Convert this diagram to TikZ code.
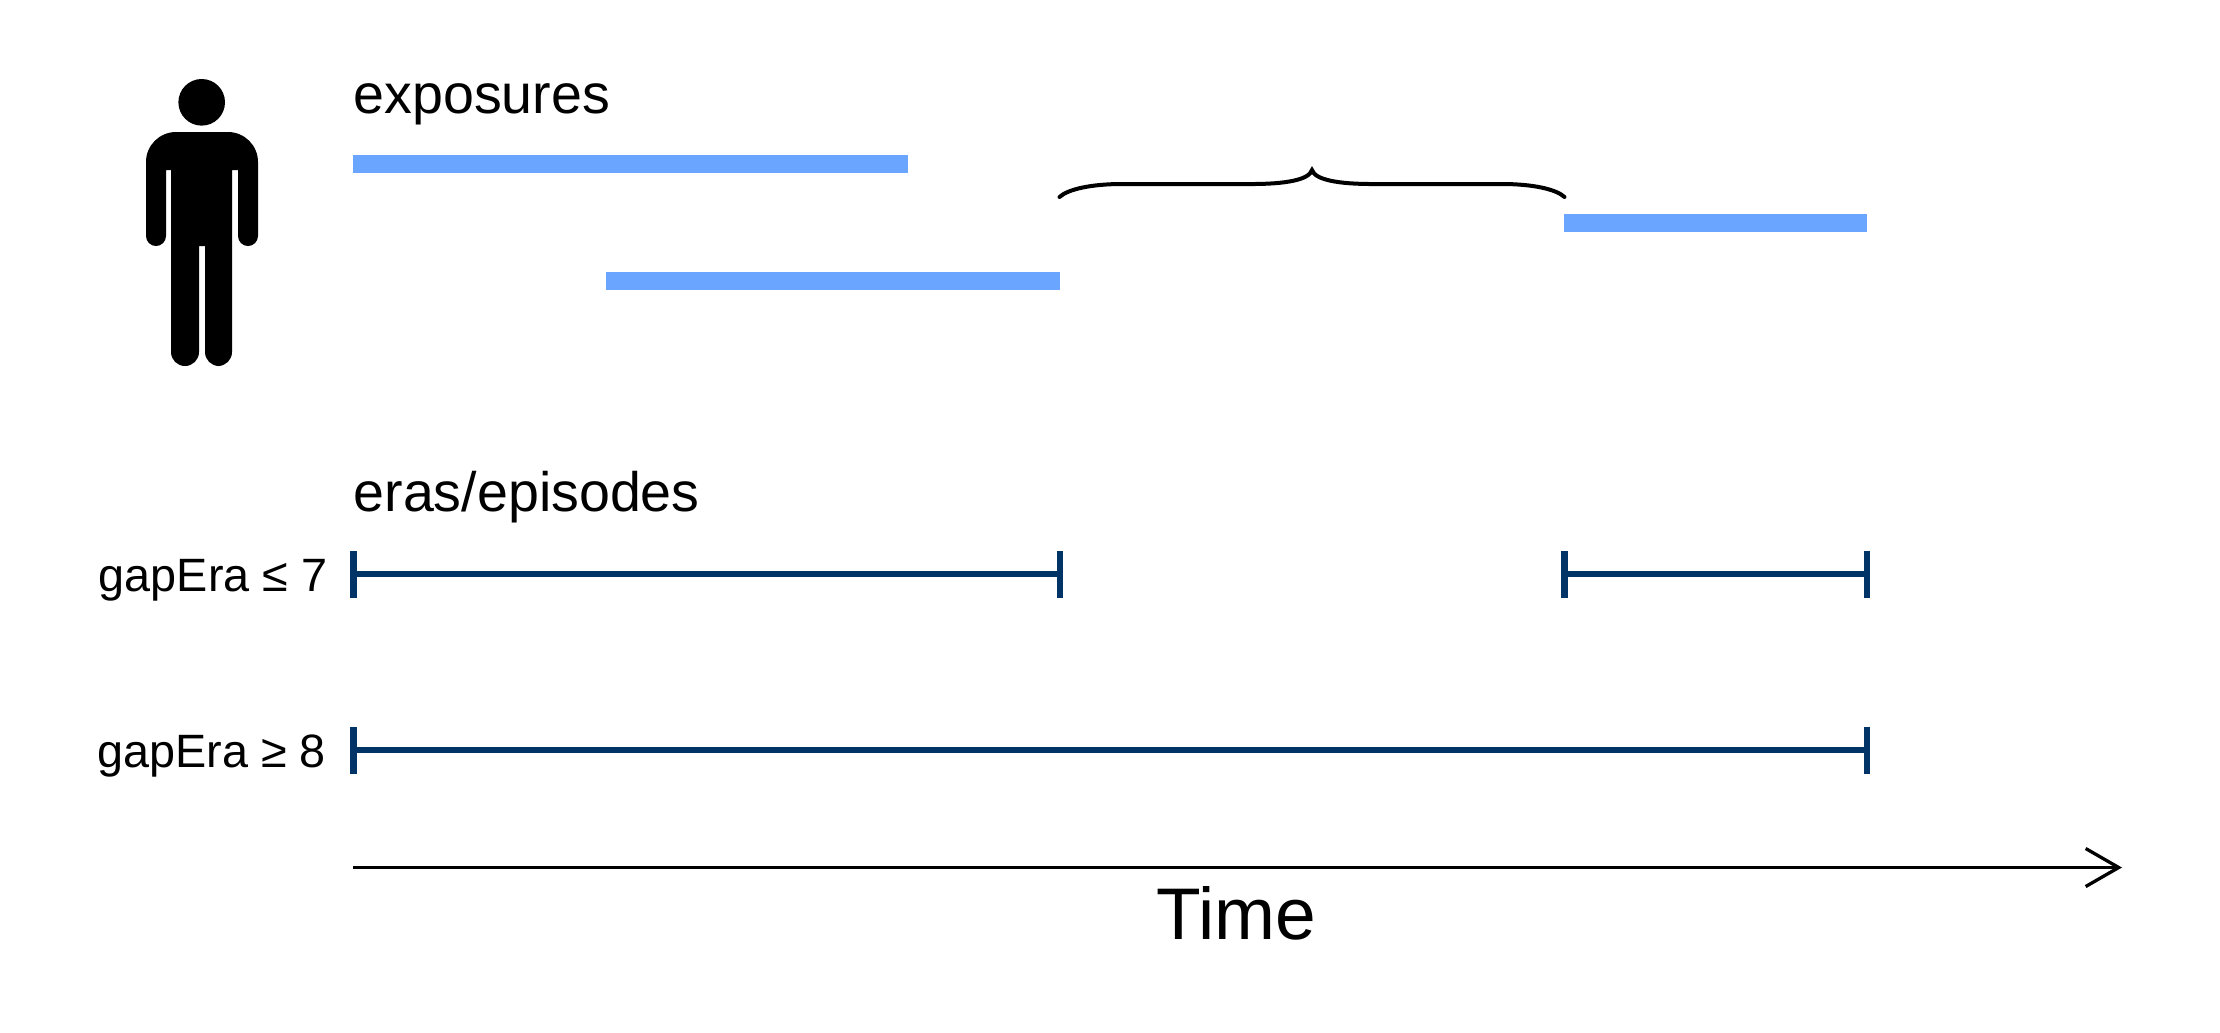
\documentclass[tikz,border=0pt]{standalone}
\usepackage{fontspec}
\setmainfont{Liberation Sans}
\usetikzlibrary{arrows.meta}
\definecolor{barblue}{HTML}{6AA5FF}
\definecolor{eranavy}{HTML}{003366}
\tikzset{
  exposurebar/.style={draw=barblue,line width=.18cm},
  eraline/.style={draw=eranavy,line width=.06cm,{Bar[width=.47cm,line width=.065cm]}-{Bar[width=.47cm,line width=.065cm]}},
  headlabel/.style={anchor=base west,inner sep=0pt,font=\fontsize{15.8}{18}\selectfont},
  gaplabel/.style={anchor=base east,inner sep=0pt,font=\fontsize{13.3}{15}\selectfont}
}
\begin{document}
\begin{tikzpicture}[x=.01cm,y=-.01cm]
\useasboundingbox (0,0) rectangle (2220,1032);

% person
\fill (201.7,102.3) circle [radius=.233cm];
\fill (171,170) -- (166,170) [rounded corners=.1cm] -- (166,246) -- (146,246) [rounded corners=.3cm] -- (146,132) -- (258,132) [rounded corners=.1cm] -- (258,246) -- (238,246) [sharp corners] -- (238,170) -- (232,170) [rounded corners=.14cm] -- (232,366) -- (205,366) [sharp corners] -- (205,246) -- (199,246) [rounded corners=.14cm] -- (199,366) -- (171,366) [sharp corners] -- cycle;

% exposures
\node[headlabel] (exposures) at (353,113) {exposures};
\coordinate (expAstart) at (353,164);
\coordinate (expAend) at (908,164);
\coordinate (expBstart) at (606,281);
\coordinate (expBend) at (1059.5,281);
\coordinate (expCstart) at (1564,222.5);
\coordinate (expCend) at (1867,222.5);
\draw[exposurebar] (expAstart) -- (expAend);
\draw[exposurebar] (expBstart) -- (expBend);
\draw[exposurebar] (expCstart) -- (expCend);

% gap between exposures
\coordinate (gapL) at (1059.5,197);
\coordinate (gapTip) at (1312,170);
\coordinate (gapR) at (1564.5,197);
\draw[line width=.04cm,line cap=round] (gapL) .. controls (1068,189) and (1092,184) .. (1122,184) -- (1252,184) .. controls (1285,184) and (1309,180) .. (gapTip) .. controls (1315,180) and (1339,184) .. (1372,184) -- (1502,184) .. controls (1532,184) and (1556,189) .. (gapR);

% eras
\node[headlabel] (eras) at (353,511) {eras/episodes};
\node[gaplabel] (gapLow) at (328,591) {gapEra ≤ 7};
\node[gaplabel] (gapHigh) at (326.5,767) {gapEra ≥ 8};
\coordinate (eraAstart) at (350,574);
\coordinate (eraAend) at (1063,574);
\coordinate (eraBstart) at (1561,574);
\coordinate (eraBend) at (1870,574);
\coordinate (eraCstart) at (350,750);
\coordinate (eraCend) at (1870,750);
\draw[eraline] (eraAstart) -- (eraAend);
\draw[eraline] (eraBstart) -- (eraBend);
\draw[eraline] (eraCstart) -- (eraCend);

% time axis
\coordinate (timeStart) at (353,867.5);
\coordinate (timeEnd) at (2122,867.5);
\draw[line width=.033cm,-{Straight Barb[length=.33cm,width=.38cm]}] (timeStart) -- (timeEnd);
\node[anchor=base west,inner sep=0pt,font=\fontsize{20.8}{24}\selectfont] (time) at (1156,939) {Time};
\end{tikzpicture}
\end{document}
